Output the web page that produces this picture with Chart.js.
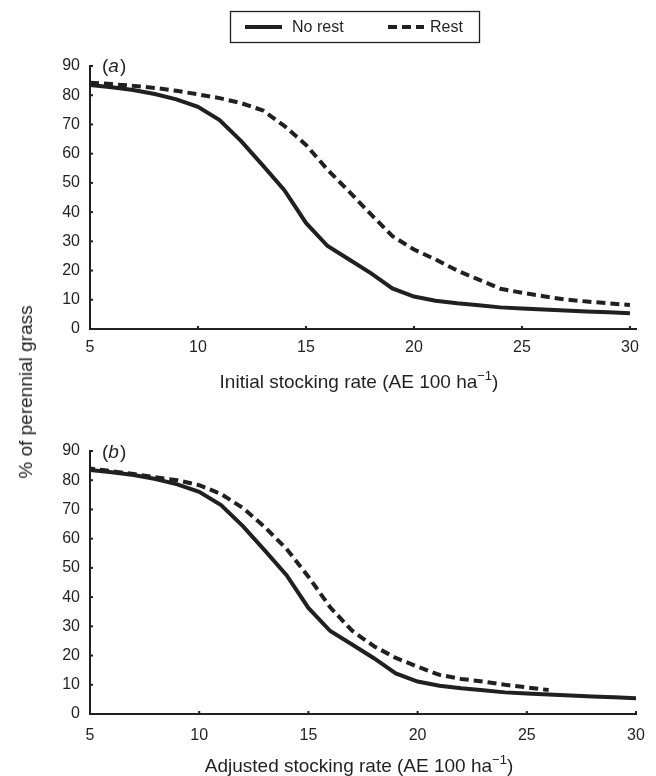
<!DOCTYPE html>
<html>
<head>
<meta charset="utf-8">
<title>Perennial grass vs stocking rate</title>
<script src="https://cdn.jsdelivr.net/npm/chart.js@4.4.1/dist/chart.umd.min.js"></script>
<style>
  body { margin: 0; background: #fff; }
  #wrap { position: relative; width: 656px; height: 776px; }
  canvas { position: absolute; left: 0; }
  #chartA { top: 0; }
  #chartB { top: 400px; }
  #ytitle {
    position: absolute; left: 26px; top: 392px;
    transform: translate(-50%, -50%) rotate(-90deg);
    font: 19px 'Liberation Sans', Arial, sans-serif;
    color: #231f20; white-space: nowrap;
  }
</style>
</head>
<body>
<div id="wrap">
  <canvas id="chartA" width="656" height="400"></canvas>
  <canvas id="chartB" width="656" height="376"></canvas>
  <div id="ytitle">% of perennial grass</div>
</div>
<script>
// stocking rate (AE 100 ha-1)
const stockingRate = [5, 6, 7, 8, 9, 10, 11, 12, 13, 14, 15, 16, 17, 18, 19, 20,
                      21, 22, 23, 24, 25, 26, 27, 28, 29, 30];

// % of perennial grass, no rest (same curve in both panels)
const noRest = [83.5, 82.7, 81.8, 80.4, 78.6, 76.0, 71.5, 64.3, 56.0, 47.5, 36.3, 28.4, 23.8,
                19.1, 13.9, 11.1, 9.7, 8.8, 8.1, 7.4, 7.0, 6.7, 6.3, 6.0, 5.7, 5.4];

// rest, against initial stocking rate
const restInitial = [84.3, 83.8, 83.2, 82.5, 81.5, 80.3, 79.0, 77.3, 74.8, 69.5, 63.0, 54.5, 47.0,
                     39.3, 31.8, 27.2, 23.8, 20.0, 16.9, 13.8, 12.4, 11.2, 10.1, 9.4, 8.8, 8.2];

// rest, against adjusted stocking rate (stops at 26)
const restAdjusted = [84.0, 83.1, 82.1, 81.0, 80.0, 78.3, 75.3, 70.5, 64.0, 56.5, 47.0, 36.5, 28.5,
                      23.2, 19.2, 16.2, 13.4, 12.0, 11.1, 10.0, 9.1, 8.2];

const xTicks = [5, 10, 15, 20, 25, 30];
const yTicks = [0, 10, 20, 30, 40, 50, 60, 70, 80, 90];

const INK = '#231f20';
const FONT = "'Liberation Sans', Arial, sans-serif";

const toPoints = (vals) => vals.map((y, i) => ({ x: stockingRate[i], y }));

// small inward tick marks on both axes
const tickMarks = {
  id: 'tickMarks',
  afterDraw(chart) {
    const { ctx, chartArea, scales } = chart;
    ctx.save();
    ctx.fillStyle = INK;
    xTicks.forEach(v => {
      const px = scales.x.getPixelForValue(v);
      ctx.fillRect(px - 1, chartArea.bottom - 3, 2, 3);
    });
    yTicks.forEach(v => {
      const py = scales.y.getPixelForValue(v);
      ctx.fillRect(chartArea.left, py - 1, 3, 2);
    });
    ctx.restore();
  }
};

// "(a)" / "(b)" with italic letter
const panelLabel = {
  id: 'panelLabel',
  afterDraw(chart, args, opts) {
    const { ctx } = chart;
    let x = opts.x;
    const y = opts.y;
    ctx.save();
    ctx.fillStyle = INK;
    ctx.textBaseline = 'middle';
    ctx.textAlign = 'left';
    const parts = [['(', ''], [opts.letter, 'italic '], [')', '']];
    parts.forEach(([t, style]) => {
      ctx.font = style + '19px ' + FONT;
      ctx.fillText(t, x, y);
      x += ctx.measureText(t).width + (style ? 1 : 0);
    });
    ctx.restore();
  }
};

// x axis title with a real superscript for the unit
const unitTitle = {
  id: 'unitTitle',
  afterDraw(chart, args, opts) {
    const { ctx } = chart;
    const parts = [
      { t: opts.text, size: 19, rise: 0 },
      { t: '\u22121', size: 13, rise: 8 },
      { t: ')', size: 19, rise: 0 }
    ];
    ctx.save();
    ctx.fillStyle = INK;
    ctx.textBaseline = 'alphabetic';
    ctx.textAlign = 'left';
    let total = 0;
    parts.forEach(p => { ctx.font = p.size + 'px ' + FONT; p.w = ctx.measureText(p.t).width; total += p.w; });
    let x = opts.cx - total / 2;
    parts.forEach(p => {
      ctx.font = p.size + 'px ' + FONT;
      ctx.fillText(p.t, x, opts.baseline - p.rise);
      x += p.w;
    });
    ctx.restore();
  }
};

// boxed legend above the top panel
const boxLegend = {
  id: 'boxLegend',
  afterDraw(chart, args, opts) {
    if (!opts.show) return;
    const { ctx } = chart;
    ctx.save();
    ctx.strokeStyle = INK;
    ctx.lineWidth = 1.3;
    ctx.strokeRect(230.5, 11.5, 249, 31);
    const items = [
      { x0: 245, x1: 282, tx: 292 },
      { x0: 388, x1: 424, tx: 430 }
    ];
    chart.data.datasets.forEach((ds, i) => {
      const it = items[i];
      ctx.beginPath();
      ctx.setLineDash(ds.borderDash || []);
      ctx.lineWidth = ds.borderWidth;
      ctx.strokeStyle = ds.borderColor;
      ctx.moveTo(it.x0, 27);
      ctx.lineTo(it.x1, 27);
      ctx.stroke();
      ctx.setLineDash([]);
      ctx.fillStyle = INK;
      ctx.font = '16px ' + FONT;
      ctx.textBaseline = 'middle';
      ctx.fillText(ds.label, it.tx, 27.5);
    });
    ctx.restore();
  }
};

function makeChart(id, cfg) {
  return new Chart(document.getElementById(id), {
    type: 'line',
    data: {
      datasets: [
        {
          label: 'No rest',
          data: toPoints(noRest),
          borderColor: INK,
          borderWidth: 4,
          pointRadius: 0,
          tension: 0,
          fill: false
        },
        {
          label: 'Rest',
          data: toPoints(cfg.rest),
          borderColor: INK,
          borderWidth: 4,
          borderDash: [9, 5],
          borderDashOffset: cfg.dashOffset,
          borderJoinStyle: 'round',
          pointRadius: 0,
          tension: 0,
          fill: false
        }
      ]
    },
    options: {
      responsive: false,
      animation: false,
      devicePixelRatio: 1,
      layout: { padding: { top: cfg.top, right: 20, left: 0, bottom: 0 } },
      plugins: {
        legend: { display: false },
        tooltip: { enabled: false },
        panelLabel: { letter: cfg.letter, x: 102, y: cfg.labelY },
        boxLegend: { show: cfg.legend },
        unitTitle: { text: cfg.xTitle, cx: 359, baseline: cfg.titleBase }
      },
      scales: {
        x: {
          type: 'linear',
          min: 5,
          max: cfg.xMax,
          afterFit(s) { s.height = cfg.xHeight; },
          afterBuildTicks(s) { s.ticks = xTicks.map(v => ({ value: v })); },
          grid: { display: false },
          border: { display: true, color: INK, width: 2 },
          ticks: {
            color: INK,
            padding: cfg.tickPad,
            maxRotation: 0,
            font: { family: FONT, size: 16 }
          }
        },
        y: {
          min: 0,
          max: 90,
          afterFit(s) { s.width = 90; },
          afterBuildTicks(s) { s.ticks = yTicks.map(v => ({ value: v })); },
          grid: { display: false },
          border: { display: true, color: INK, width: 2 },
          ticks: {
            color: INK,
            padding: 2,
            font: { family: FONT, size: 16 }
          }
        }
      }
    },
    plugins: [tickMarks, panelLabel, unitTitle, boxLegend]
  });
}

makeChart('chartA', {
  rest: restInitial,
  letter: 'a',
  labelY: 67,
  legend: true,
  top: 66,
  xHeight: 71,
  xMax: 30.28,
  tickPad: 1,
  dashOffset: 0,
  titleBase: 388,
  xTitle: 'Initial stocking rate (AE 100 ha'
});

makeChart('chartB', {
  rest: restAdjusted,
  letter: 'b',
  labelY: 53,
  legend: false,
  top: 51,
  xHeight: 62,
  xMax: 30,
  tickPad: 4,
  dashOffset: 4,
  titleBase: 372,
  xTitle: 'Adjusted stocking rate (AE 100 ha'
});
</script>
</body>
</html>
